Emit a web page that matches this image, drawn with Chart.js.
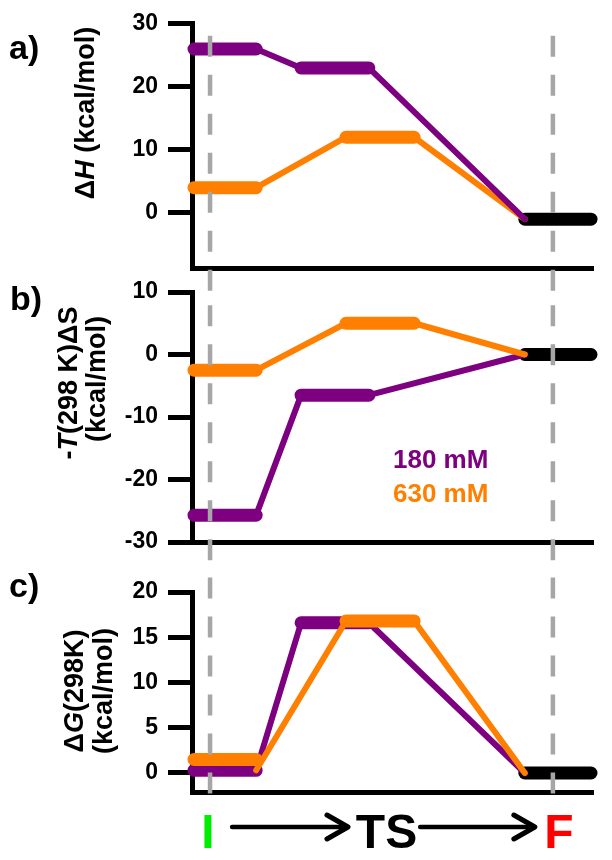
<!DOCTYPE html>
<html>
<head>
<meta charset="utf-8">
<script src="https://cdn.jsdelivr.net/npm/chart.js@4.4.1/dist/chart.umd.min.js"></script>
<style>
  html, body { margin: 0; padding: 0; background: #fff; }
  #wrap { position: relative; width: 612px; height: 860px; }
  canvas { position: absolute; left: 0; top: 0; }
</style>
</head>
<body>
<div id="wrap">
  <canvas id="chartA" width="612" height="860"></canvas>
  <canvas id="chartB" width="612" height="860"></canvas>
  <canvas id="chartC" width="612" height="860"></canvas>
</div>
<script>
const stages = ['I', 'TS', 'F'];
// level extents along the reaction coordinate (0..10)
const start180 = [0.05, 2.72, 8.3];
const end180 = [1.6, 4.41, 9.95];
const start630 = [0.05, 3.84, 8.3];
const end630 = [1.6, 5.54, 9.95];
const guideX = [0.45, 9.0];

const dH180 = [26, 23, -1];
const dH630 = [4, 12, -1];
const TdS180 = [-25.7, -6.5, 0];
const TdS630 = [-2.5, 5, 0];
const dG180 = [0.3, 16.6, 0];
const dG630 = [1.5, 16.8, 0];
const dG630Link = [0.3, 16.8, 16.8, 0]; // orange connector leaves from the lower I level

const dHTicks = [0, 10, 20, 30];
const TdSTicks = [-30, -20, -10, 0, 10];
const dGTicks = [0, 5, 10, 15, 20];

// vertical extent of the grey guides inside each panel (axis units)
const guideA = [28.1, -14.5];
const guideB = [7.9, -35.8];
const guideC = [21.6, -2.4];

const PURPLE = '#7d0080';
const ORANGE = '#ff7f00';
const GREY = '#a6a6a6';
const FONT = '"Liberation Sans", Arial, sans-serif';
Chart.defaults.font.family = FONT;

function levels(vals, starts, ends, n) {
  const pts = [];
  for (let i = 0; i < n; i++) {
    if (i) pts.push({x: starts[i], y: null});
    pts.push({x: starts[i], y: vals[i]}, {x: ends[i], y: vals[i]});
  }
  return pts;
}

function links(ys, starts, ends) {
  return [
    {x: ends[0], y: ys[0]}, {x: starts[1], y: ys[1]},
    {x: ends[1], y: ys[2]}, {x: starts[2], y: ys[3]}
  ];
}

function line(data, color, width, order, dash) {
  return {
    data: data, borderColor: color, borderWidth: width, order: order,
    borderDash: dash || [], borderCapStyle: dash ? 'butt' : 'round',
    borderJoinStyle: 'round', pointRadius: 0, fill: false, tension: 0,
    spanGaps: false, clip: false
  };
}

function richText(ctx, parts, cx, cy, size) {
  ctx.save();
  ctx.translate(cx, cy);
  ctx.rotate(-Math.PI / 2);
  ctx.textBaseline = 'middle';
  ctx.textAlign = 'left';
  ctx.fillStyle = '#000';
  const fnt = p => (p[1] ? 'italic ' : '') + 'bold ' + size + 'px ' + FONT;
  let w = 0;
  parts.forEach(p => { ctx.font = fnt(p); w += ctx.measureText(p[0]).width; });
  let x = -w / 2;
  parts.forEach(p => { ctx.font = fnt(p); ctx.fillText(p[0], x, 0); x += ctx.measureText(p[0]).width; });
  ctx.restore();
}

function label(ctx, text, x, y, size, color, align) {
  ctx.save();
  ctx.font = 'bold ' + size + 'px ' + FONT;
  ctx.fillStyle = color;
  ctx.textAlign = align || 'left';
  ctx.textBaseline = 'alphabetic';
  ctx.fillText(text, x, y);
  ctx.restore();
}

function panel(id, cfg) {
  const v180 = cfg.v180, v630 = cfg.v630;
  const l180 = cfg.link180 || [v180[0], v180[1], v180[1], v180[2]];
  const l630 = cfg.link630 || [v630[0], v630[1], v630[1], v630[2]];
  const pTop = cfg.purpleOnTop;
  const datasets = [
    line([{x: guideX[0], y: cfg.guide[0]}, {x: guideX[0], y: cfg.guide[1]}], GREY, 4.5, 0, [21, 18]),
    line([{x: guideX[1], y: cfg.guide[0]}, {x: guideX[1], y: cfg.guide[1]}], GREY, 4.5, 0, [21, 18]),
    line(levels(v630, start630, end630, 2), ORANGE, 13, pTop ? 3 : 1),
    line(links(l630, start630, end630), ORANGE, 6, pTop ? 4 : 2),
    line(levels(v180, start180, end180, 2), PURPLE, 13, pTop ? 1 : 3),
    line(links(l180, start180, end180), PURPLE, 6, pTop ? 2 : 4),
    line(levels([v180[2]], [start180[2]], [end180[2]], 1), '#000', 13, 5)
  ];
  return new Chart(document.getElementById(id), {
    type: 'line',
    data: {datasets: datasets},
    options: {
      responsive: false,
      animation: false,
      events: [],
      layout: {padding: {left: 0, right: 19, top: cfg.padTop, bottom: cfg.padBottom}},
      plugins: {legend: {display: false}, tooltip: {enabled: false}},
      scales: {
        x: {
          type: 'linear', min: 0, max: 10,
          afterFit: a => { a.height = 0; },
          grid: {display: false},
          border: {display: true, width: 5, color: '#000'},
          ticks: {display: false}
        },
        y: {
          min: cfg.min, max: cfg.max,
          afterBuildTicks: a => { a.ticks = cfg.ticks.map(v => ({value: v})); },
          afterFit: a => { a.width = 192; },
          grid: {drawOnChartArea: false, drawTicks: true, tickLength: 24, tickWidth: 5, tickColor: '#000'},
          border: {display: true, width: 5, color: '#000'},
          ticks: {color: '#000', padding: 10, font: {size: 23, weight: 'bold'}}
        }
      }
    },
    plugins: [{id: 'deco', afterDraw: chart => cfg.draw(chart.ctx, chart)}]
  });
}

panel('chartA', {
  v180: dH180, v630: dH630, min: -8.75, max: 30, ticks: dHTicks,
  guide: guideA, padTop: 20, padBottom: 592, purpleOnTop: true,
  draw: ctx => {
    label(ctx, 'a)', 9, 59, 34, '#000');
    richText(ctx, [['\u0394'], ['H', true], [' (kcal/mol)']], 87, 113, 27);
  }
});

panel('chartB', {
  v180: TdS180, v630: TdS630, min: -30, max: 10, ticks: TdSTicks,
  guide: guideB, padTop: 292, padBottom: 318, purpleOnTop: false,
  draw: ctx => {
    label(ctx, 'b)', 10, 310, 34, '#000');
    richText(ctx, [['-'], ['T', true], ['(298 K)\u0394S']], 70, 383, 27);
    richText(ctx, [['(kcal/mol)']], 98, 379, 27);
    label(ctx, '180 mM', 393, 468, 26, PURPLE);
    label(ctx, '630 mM', 393, 502, 26, ORANGE);
  }
});

const stageLabelX = [0.4, 4.85, 9.15];
const stageColors = ['#00ee00', '#000', '#ff0000'];
const arrowFrom = [1.0, 5.69];
const arrowTo = [3.89, 8.55];

panel('chartC', {
  v180: dG180, v630: dG630, link630: dG630Link, min: -2.1, max: 20, ticks: dGTicks,
  guide: guideC, padTop: 592, padBottom: 68, purpleOnTop: false,
  draw: (ctx, chart) => {
    const xs = chart.scales.x;
    label(ctx, 'c)', 9, 597, 34, '#000');
    richText(ctx, [['\u0394'], ['G', true], ['(298K)']], 76, 691, 27);
    richText(ctx, [['(kcal/mol)']], 105, 691, 27);
    stages.forEach((s, i) => label(ctx, s, xs.getPixelForValue(stageLabelX[i]), 848, 48, stageColors[i], 'center'));
    ctx.save();
    ctx.strokeStyle = '#000';
    ctx.lineCap = 'round';
    ctx.lineJoin = 'round';
    const y = 827;
    arrowFrom.forEach((f, i) => {
      const x0 = xs.getPixelForValue(f), x1 = xs.getPixelForValue(arrowTo[i]);
      ctx.lineWidth = 4.5;
      ctx.beginPath(); ctx.moveTo(x0, y); ctx.lineTo(x1 - 2, y); ctx.stroke();
      ctx.lineWidth = 5;
      ctx.beginPath(); ctx.moveTo(x1 - 21, y - 12); ctx.lineTo(x1, y); ctx.lineTo(x1 - 21, y + 12); ctx.stroke();
    });
    ctx.restore();
  }
});
</script>
</body>
</html>
